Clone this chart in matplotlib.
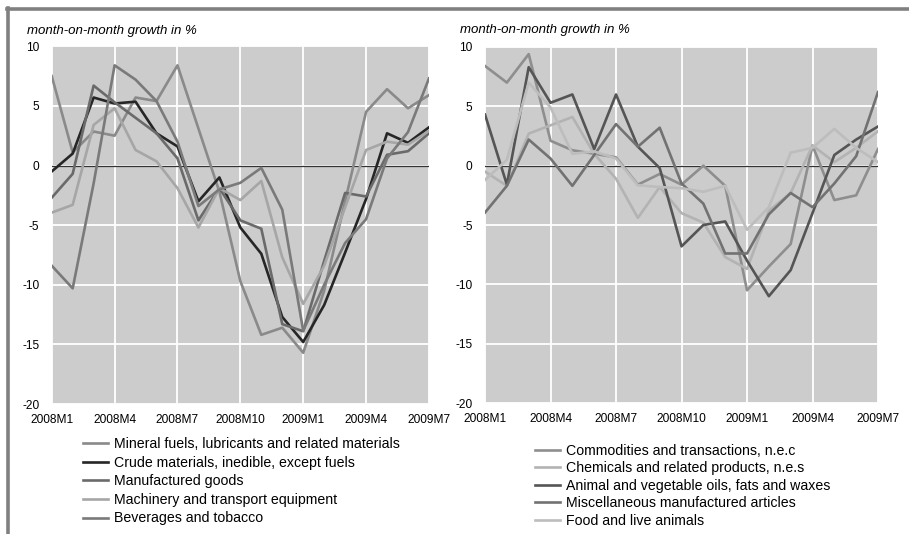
import matplotlib
matplotlib.use('Agg')
import matplotlib.pyplot as plt
from matplotlib.lines import Line2D

plt.rcParams['font.family'] = ['Liberation Sans', 'DejaVu Sans']
plt.rcParams['axes.unicode_minus'] = False

months = ['2008M1', '2008M2', '2008M3', '2008M4', '2008M5', '2008M6', '2008M7',
          '2008M8', '2008M9', '2008M10', '2008M11', '2008M12', '2009M1', '2009M2',
          '2009M3', '2009M4', '2009M5', '2009M6', '2009M7']
tick_labels = ['2008M1', '2008M4', '2008M7', '2008M10', '2009M1', '2009M4', '2009M7']

# left panel
mineral_fuels = [7.5, 1.1, 2.85, 2.5, 5.7, 5.4, 8.4, 3.1, -2.2, -9.7, -14.2, -13.6, -15.7, -10.5, -3.0, 4.5, 6.4, 4.8, 5.9]
crude_materials = [-0.5, 1.0, 5.7, 5.2, 5.35, 2.7, 1.6, -3.0, -1.0, -5.2, -7.4, -12.7, -14.8, -11.7, -7.3, -2.8, 2.7, 1.9, 3.2]
manufactured = [-2.7, -0.7, 6.7, 5.3, 4.0, 2.7, 0.6, -4.6, -1.9, -4.6, -5.3, -13.3, -13.9, -8.0, -2.3, -2.6, 0.9, 1.2, 2.7]
machinery = [-3.95, -3.3, 3.4, 4.8, 1.3, 0.35, -1.9, -5.2, -1.9, -2.9, -1.3, -7.7, -11.6, -8.4, -3.5, 1.3, 2.0, 1.75, 2.9]
beverages = [-8.4, -10.3, -1.5, 8.4, 7.2, 5.4, 2.0, -3.4, -2.0, -1.45, -0.2, -3.7, -13.85, -10.0, -6.5, -4.5, 0.6, 2.8, 7.3]

# right panel
commodities = [8.4, 7.0, 9.4, 2.1, 1.3, 1.0, 0.7, -1.6, -0.7, -1.6, 0.0, -1.7, -10.5, -8.5, -6.6, 1.7, -2.9, -2.5, 1.4]
chemicals = [-0.5, -1.7, 2.7, 3.4, 4.1, 1.0, -1.1, -4.4, -1.8, -4.0, -4.8, -7.7, -8.7, -3.8, -2.3, 1.7, 0.3, 1.5, 2.9]
animal_oils = [4.3, -1.6, 8.3, 5.3, 6.0, 1.4, 6.0, 1.6, -0.2, -6.8, -5.0, -4.7, -8.0, -11.0, -8.8, -4.0, 0.9, 2.2, 3.3]
misc_manufactured = [-3.95, -1.7, 2.2, 0.6, -1.7, 0.9, 3.5, 1.6, 3.2, -1.5, -3.2, -7.4, -7.4, -4.1, -2.3, -3.5, -1.5, 0.8, 6.2]
food = [-1.2, 0.5, 7.0, 4.9, 1.0, 1.2, 0.6, -1.65, -1.8, -1.9, -2.2, -1.7, -5.4, -3.5, 1.1, 1.5, 3.1, 1.5, 0.3]

left_series = [('Mineral fuels, lubricants and related materials', mineral_fuels, '#8a8a8a'),
               ('Crude materials, inedible, except fuels', crude_materials, '#262626'),
               ('Manufactured goods', manufactured, '#6a6a6a'),
               ('Machinery and transport equipment', machinery, '#a6a6a6'),
               ('Beverages and tobacco', beverages, '#7a7a7a')]
right_series = [('Commodities and transactions, n.e.c', commodities, '#8e8e8e'),
                ('Chemicals and related products, n.e.s', chemicals, '#b3b3b3'),
                ('Animal and vegetable oils, fats and waxes', animal_oils, '#555555'),
                ('Miscellaneous manufactured articles', misc_manufactured, '#727272'),
                ('Food and live animals', food, '#bdbdbd')]

fig = plt.figure(figsize=(9.09, 5.34), dpi=100)
ax1 = fig.add_axes([0.0569, 0.2434, 0.415, 0.670])
ax2 = fig.add_axes([0.5336, 0.2453, 0.4323, 0.6667])

x = list(range(len(months)))
for ax, series in [(ax1, left_series), (ax2, right_series)]:
    ax.set_facecolor('#cccccc')
    for label, vals, col in series:
        ax.plot(x, vals, color=col, lw=1.9, label=label)
    ax.axhline(0, color='#333333', lw=0.9, zorder=1.5)
    ax.set_xlim(0, 18)
    ax.set_ylim(-20, 10)
    ax.set_xticks(range(0, 19, 3))
    ax.set_xticklabels(tick_labels)
    ax.set_yticks(range(-20, 11, 5))
    ax.grid(True, color='white', lw=1.3)
    ax.set_axisbelow(True)
    for s in ax.spines.values():
        s.set_visible(False)
    ax.tick_params(length=0, labelsize=8.6, colors='black')
    ax.tick_params(axis='y', pad=9)
    ax.tick_params(axis='x', pad=7)

fig.text(0.030, 0.942, 'month-on-month growth in %', style='italic', fontsize=9.5, va='center')
fig.text(0.506, 0.944, 'month-on-month growth in %', style='italic', fontsize=9.5, va='center')

fig.legend(*ax1.get_legend_handles_labels(), loc='upper left', bbox_to_anchor=(0.0913, 0.181),
           frameon=False, fontsize=10.2, handlelength=1.76, handletextpad=0.42, labelspacing=0.32,
           borderaxespad=0, borderpad=0)
fig.legend(*ax2.get_legend_handles_labels(), loc='upper left', bbox_to_anchor=(0.5886, 0.169),
           frameon=False, fontsize=10.2, handlelength=1.76, handletextpad=0.42, labelspacing=0.25,
           borderaxespad=0, borderpad=0)

# frame round the figure (top and left only)
fig.add_artist(Line2D([0.008, 1.0], [0.983, 0.983], color='#808080', lw=2.6))
fig.add_artist(Line2D([0.009, 0.009], [0.0, 0.985], color='#808080', lw=2.6))

fig.savefig('out.png', dpi=100)
